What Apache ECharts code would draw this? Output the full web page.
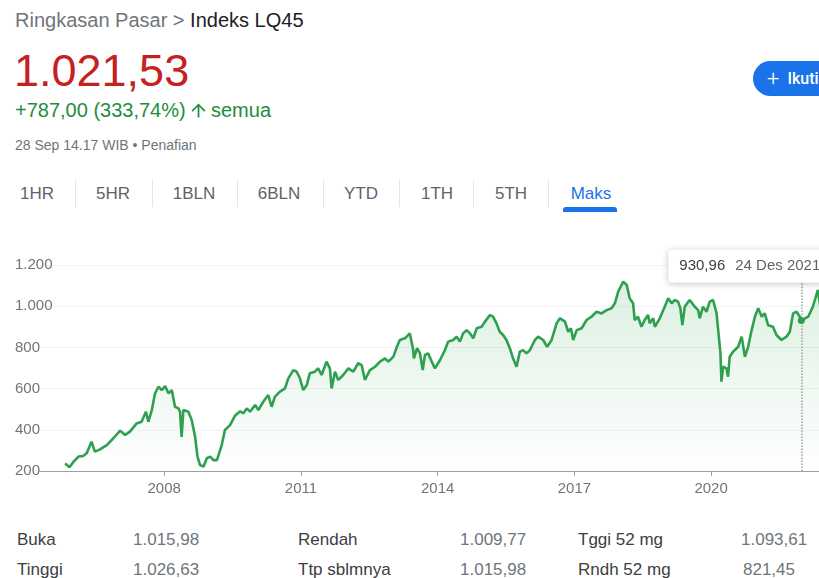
<!DOCTYPE html>
<html>
<head>
<meta charset="utf-8">
<script src="https://cdn.jsdelivr.net/npm/echarts@6/dist/echarts.min.js"></script>
<style>
html, body {
  margin: 0;
  width: 819px;
  height: 578px;
  overflow: hidden;
  background: #fff;
  font-family: Arial, "Liberation Sans", sans-serif;
}
.abs { position: absolute; line-height: 1; white-space: nowrap; }
.crumb { left: 15px; top: 10px; font-size: 20px; color: #70757a; }
.crumb b { font-weight: normal; color: #202124; }
.price { left: 14px; top: 48px; font-size: 45px; color: #c5221f; }
.change { left: 15px; top: 100px; font-size: 20px; color: #1e8e3e; }
.semua { left: 211px; top: 100px; font-size: 20px; color: #1e8e3e; }
.arrow { position: absolute; left: 188px; top: 100px; width: 21px; height: 21px; }
.when { left: 15px; top: 138px; font-size: 14px; color: #70757a; }
.follow {
  position: absolute; left: 753px; top: 61px; width: 110px; height: 35px;
  border-radius: 18px; background: #1a73e8; color: #fff;
  font-family: Roboto, Arial, sans-serif; font-weight: 500; font-size: 16px;
  line-height: 35px; padding-left: 14px; box-sizing: border-box;
}
.follow span { font-size: 22px; font-weight: 300; vertical-align: -2px; margin-right: 8px; }
.tab { position: absolute; top: 185px; width: 80px; margin-left: -40px; text-align: center; font-size: 17px; line-height: 17px; color: #5f6368; }
.tab.on { color: #1a73e8; }
.sep { position: absolute; top: 180px; width: 1px; height: 27px; background: #e3e5e8; }
.bar { position: absolute; left: 563px; top: 207px; width: 54px; height: 5px; background: #1a73e8; border-radius: 3px 3px 0 0; }
#chart { position: absolute; left: 0; top: 240px; width: 860px; height: 260px; }
.cell { position: absolute; font-size: 17px; line-height: 17px; }
.lab { color: #3c4043; }
.val { color: #70757a; }
</style>
</head>
<body>

<!-- header -->
<div class="abs crumb">Ringkasan Pasar &gt; <b>Indeks LQ45</b></div>
<div class="abs price">1.021,53</div>
<div class="abs change">+787,00 (333,74%)</div>
<svg class="arrow" viewBox="0 0 24 24"><path fill="#1e8e3e" d="M4 12l1.41 1.41L11 7.83V20h2V7.83l5.58 5.59L20 12l-8-8-8 8z"/></svg>
<div class="abs semua">semua</div>
<div class="abs when">28 Sep 14.17 WIB • Penafian</div>
<div class="follow"><span>+</span>Ikuti</div>

<!-- range tabs -->
<div class="tab" style="left:37px">1HR</div>
<div class="sep" style="left:75px"></div>
<div class="tab" style="left:113px">5HR</div>
<div class="sep" style="left:152px"></div>
<div class="tab" style="left:194px">1BLN</div>
<div class="sep" style="left:237px"></div>
<div class="tab" style="left:279px">6BLN</div>
<div class="sep" style="left:323px"></div>
<div class="tab" style="left:361px">YTD</div>
<div class="sep" style="left:399px"></div>
<div class="tab" style="left:437px">1TH</div>
<div class="sep" style="left:473px"></div>
<div class="tab" style="left:511px">5TH</div>
<div class="sep" style="left:548px"></div>
<div class="tab on" style="left:591px">Maks</div>
<div class="bar"></div>

<div id="chart"></div>

<!-- stats -->
<div class="cell lab" style="left:17px;top:531px">Buka</div>
<div class="cell val" style="left:133px;top:531px">1.015,98</div>
<div class="cell lab" style="left:298px;top:531px">Rendah</div>
<div class="cell val" style="left:460px;top:531px">1.009,77</div>
<div class="cell lab" style="left:578px;top:531px">Tggi 52 mg</div>
<div class="cell val" style="left:741px;top:531px">1.093,61</div>
<div class="cell lab" style="left:17px;top:561px">Tinggi</div>
<div class="cell val" style="left:133px;top:561px">1.026,63</div>
<div class="cell lab" style="left:298px;top:561px">Ttp sblmnya</div>
<div class="cell val" style="left:460px;top:561px">1.015,98</div>
<div class="cell lab" style="left:578px;top:561px">Rndh 52 mg</div>
<div class="cell val" style="left:743px;top:561px">821,45</div>

<script>
// LQ45 close
const dates = [
  '2005-10-29','2005-12-03','2006-01-05','2006-02-14','2006-03-23','2006-04-20','2006-05-29','2006-06-25',
  '2006-08-05','2006-09-28','2006-11-20','2007-01-13','2007-02-22','2007-04-02','2007-05-25','2007-07-04',
  '2007-08-08','2007-08-27','2007-09-24','2007-10-20','2007-11-16','2007-12-13','2008-01-09','2008-02-05',
  '2008-03-02','2008-03-28','2008-04-24','2008-05-07','2008-05-20','2008-06-03','2008-07-13','2008-08-09',
  '2008-09-05','2008-09-24','2008-10-15','2008-11-11','2008-12-08','2009-01-04','2009-01-30','2009-02-27',
  '2009-04-06','2009-05-02','2009-06-12','2009-07-21','2009-09-01','2009-09-27','2009-10-24','2009-11-19',
  '2009-12-30','2010-01-25','2010-03-05','2010-04-14','2010-05-11','2010-06-07','2010-07-17','2010-08-26',
  '2010-09-22','2010-11-01','2010-11-28','2010-12-24','2011-01-20','2011-02-17','2011-03-13','2011-04-23',
  '2011-05-19','2011-06-16','2011-07-25','2011-08-21','2011-09-04','2011-10-01','2011-10-27','2011-12-06',
  '2012-01-16','2012-02-25','2012-04-04','2012-05-02','2012-05-28','2012-07-07','2012-08-17','2012-09-26',
  '2012-11-05','2012-12-02','2013-01-11','2013-02-08','2013-03-04','2013-04-13','2013-05-23','2013-06-19',
  '2013-06-24','2013-07-20','2013-08-12','2013-09-03','2013-09-21','2013-10-17','2013-11-14','2013-12-10',
  '2014-01-20','2014-02-28','2014-03-26','2014-05-05','2014-06-02','2014-06-28','2014-07-24','2014-08-21',
  '2014-09-17','2014-10-13','2014-11-10','2014-12-19','2015-01-15','2015-02-24','2015-03-21','2015-04-17',
  '2015-05-13','2015-06-09','2015-07-06','2015-08-02','2015-08-28','2015-09-25','2015-10-21','2015-11-17',
  '2015-12-14','2016-01-10','2016-02-19','2016-03-16','2016-04-25','2016-05-27','2016-07-02','2016-08-11',
  '2016-09-07','2016-10-17','2016-11-12','2016-12-04','2016-12-22','2017-01-19','2017-02-28','2017-04-08',
  '2017-05-17','2017-06-27','2017-08-06','2017-09-16','2017-10-25','2017-11-21','2017-12-17','2018-01-27',
  '2018-02-24','2018-03-20','2018-04-16','2018-04-29','2018-05-25','2018-06-22','2018-07-18','2018-08-14',
  '2018-08-27','2018-09-24','2018-10-07','2018-11-16','2018-12-26','2019-01-22','2019-02-19','2019-03-15',
  '2019-04-11','2019-04-30','2019-05-16','2019-06-04','2019-07-13','2019-08-23','2019-09-19','2019-10-02',
  '2019-10-28','2019-11-25','2019-12-21','2020-01-17','2020-02-14','2020-02-27','2020-03-16','2020-03-24',
  '2020-04-06','2020-05-03','2020-05-16','2020-05-29','2020-06-25','2020-08-05','2020-09-02','2020-09-28',
  '2020-10-24','2020-11-21','2020-12-17','2021-01-13','2021-02-10','2021-03-06','2021-04-02','2021-05-11',
  '2021-06-08','2021-07-18','2021-08-27','2021-09-23','2021-10-19','2021-11-16','2021-12-12','2021-12-24',
  '2022-02-17','2022-03-27','2022-05-06','2022-05-25','2022-06-20','2022-07-15','2022-08-15','2022-09-28'
];
const values = [
  237, 218, 245, 270, 273, 286, 342, 294,
  305, 326, 359, 396, 375, 391, 431, 439,
  488, 439, 496, 577, 609, 593, 612, 577,
  593, 512, 504, 488, 366, 496, 488, 447,
  366, 270, 229, 221, 262, 270, 253, 253,
  326, 399, 423, 468, 490, 480, 504, 488,
  520, 496, 536, 569, 512, 561, 585, 601,
  650, 690, 682, 650, 593, 617, 674, 682,
  698, 666, 731, 698, 601, 682, 642, 666,
  698, 682, 723, 714, 642, 690, 706, 731,
  747, 731, 755, 803, 836, 844, 868, 787,
  747, 796, 771, 690, 763, 771, 731, 698,
  739, 787, 828, 836, 852, 828, 868, 884,
  868, 844, 893, 900, 925, 957, 949, 917,
  876, 860, 836, 796, 747, 706, 779, 787,
  771, 787, 836, 852, 836, 803, 836, 917,
  941, 925, 876, 893, 836, 884, 893, 933,
  949, 973, 965, 981, 990, 1014, 1070, 1119,
  1103, 1038, 1014, 933, 949, 900, 933, 957,
  917, 941, 900, 941, 998, 1038, 1014, 1030,
  1022, 990, 908, 998, 1030, 998, 981, 941,
  998, 973, 1022, 1030, 965, 884, 771, 634,
  706, 698, 658, 755, 779, 803, 852, 755,
  803, 884, 949, 990, 949, 965, 908, 900,
  860, 836, 852, 876, 965, 973, 949, 930.96,
  949, 998, 1079, 1000, 960, 940, 1010, 1021.53
];
const yTicks = [200, 400, 600, 800, 1000, 1200];
const yearTicks = [2008, 2011, 2014, 2017, 2020];
const axisStart = '2005-04-11';
const axisEnd = '2022-09-28';
// hover readout shown in the picture
const tipDate = '2021-12-24';
const tipValue = 930.96;
const tipLabel = '24 Des 2021';
const tipTop = 1112;

const lineColor = '#2ea04f';
const grey = '#70757a';
const ts = d => Date.parse(d);
const idNum = v => String(v).replace(/\B(?=(\d{3})+(?!\d))/g, '.');
const idDec = v => idNum(Math.floor(v)) + ',' + v.toFixed(2).split('.')[1];
const yearStamps = yearTicks.map(y => Date.UTC(y, 0, 1));

const chart = echarts.init(document.getElementById('chart'), null, { renderer: 'canvas' });

const option = {
  animation: false,
  textStyle: { fontFamily: 'Arial, "Liberation Sans", sans-serif' },
  grid: { left: 40, right: 24, top: 25, bottom: 29 },
  xAxis: {
    type: 'value',
    min: ts(axisStart),
    max: ts(axisEnd),
    axisLine: { lineStyle: { color: '#9aa0a6', width: 1 } },
    axisTick: {
      show: true,
      length: 5,
      lineStyle: { color: '#9aa0a6' },
      customValues: yearStamps
    },
    axisLabel: {
      fontSize: 15,
      color: grey,
      margin: 10,
      customValues: yearStamps,
      formatter: v => String(new Date(v).getUTCFullYear())
    },
    splitLine: { show: false }
  },
  yAxis: {
    type: 'value',
    min: yTicks[0],
    max: yTicks[yTicks.length - 1],
    interval: 200,
    axisLine: { show: false },
    axisTick: { show: false },
    axisLabel: {
      fontSize: 15,
      color: grey,
      align: 'left',
      margin: 25,
      formatter: v => idNum(v)
    },
    splitLine: { lineStyle: { color: '#f1f3f4', width: 1 } }
  },
  series: [
    {
      type: 'line',
      data: dates.map((d, i) => [ts(d), values[i]]),
      showSymbol: false,
      lineStyle: { color: lineColor, width: 2.6 },
      areaStyle: {
        color: new echarts.graphic.LinearGradient(0, 0, 0, 1, [
          { offset: 0, color: 'rgba(46,164,79,0.24)' },
          { offset: 1, color: 'rgba(46,164,79,0)' }
        ])
      },
      markLine: {
        silent: true,
        symbol: 'none',
        label: { show: false },
        lineStyle: { color: '#9aa0a6', type: 'dotted', width: 1.5 },
        data: [[{ coord: [ts(tipDate), yTicks[0]] }, { coord: [ts(tipDate), tipTop] }]]
      },
      markPoint: {
        silent: true,
        data: [
          {
            coord: [ts(tipDate), tipValue],
            symbol: 'circle',
            symbolSize: 7,
            itemStyle: { color: lineColor },
            label: { show: false }
          },
          {
            coord: [ts(tipDate), tipTop],
            symbol: 'circle',
            symbolSize: 1,
            itemStyle: { color: 'rgba(0,0,0,0)' },
            label: {
              show: true,
              position: 'top',
              distance: 0,
              offset: [-51, 0],
              formatter: '{v|' + idDec(tipValue) + '}{d|' + tipLabel + '}',
              backgroundColor: '#fff',
              borderRadius: 4,
              shadowBlur: 6,
              shadowOffsetY: 1,
              shadowColor: 'rgba(0,0,0,0.25)',
              padding: [9, 12, 9, 11],
              rich: {
                v: { fontSize: 15, color: '#3c4043', padding: [0, 10, 0, 0], lineHeight: 15 },
                d: { fontSize: 15, color: '#5f6368', lineHeight: 15 }
              }
            }
          }
        ]
      }
    }
  ]
};

chart.setOption(option);
</script>
</body>
</html>
